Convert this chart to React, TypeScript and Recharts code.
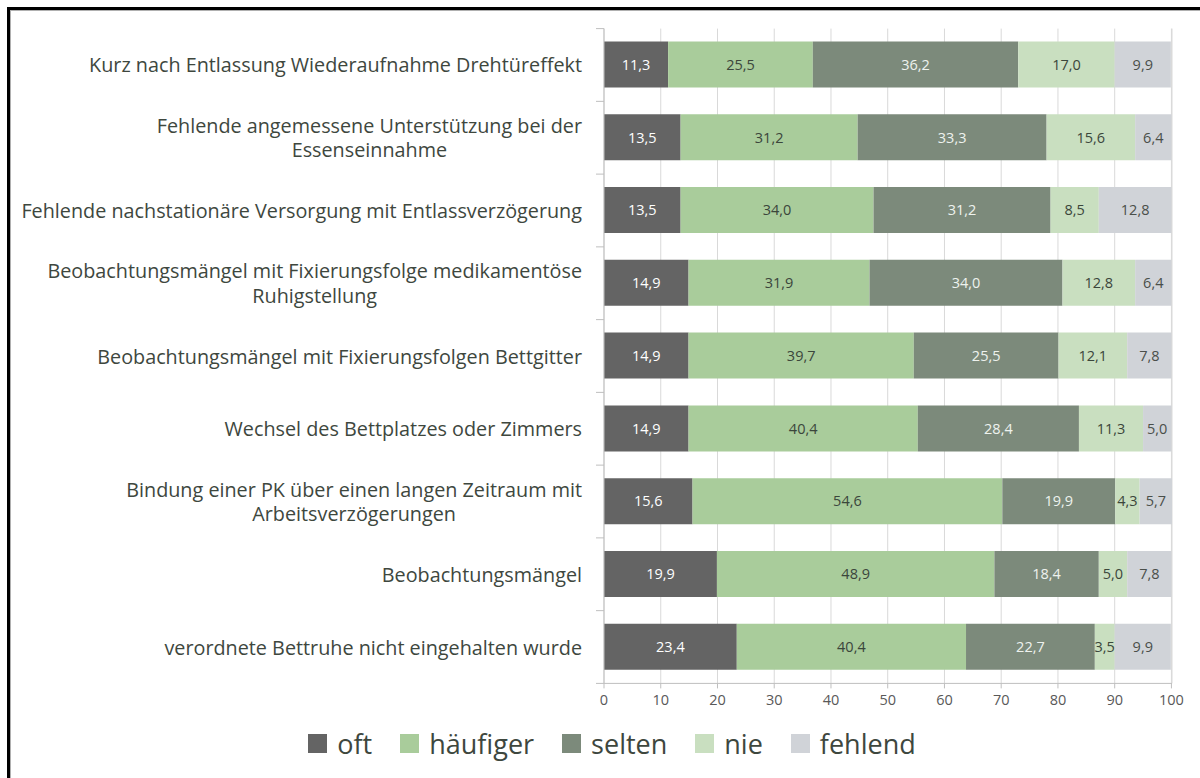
import React from "react";
import {
    BarChart,
    Bar,
    XAxis,
    YAxis,
    CartesianGrid,
    Legend,
    LabelList,
} from "recharts";

// Kategorien (von oben nach unten)
const categories = [
    "Kurz nach Entlassung Wiederaufnahme Drehtüreffekt",
    "Fehlende angemessene Unterstützung bei der\nEssenseinnahme",
    "Fehlende nachstationäre Versorgung mit Entlassverzögerung",
    "Beobachtungsmängel mit Fixierungsfolge medikamentöse\nRuhigstellung",
    "Beobachtungsmängel mit Fixierungsfolgen Bettgitter",
    "Wechsel des Bettplatzes oder Zimmers",
    "Bindung einer PK über einen langen Zeitraum mit\nArbeitsverzögerungen",
    "Beobachtungsmängel",
    "verordnete Bettruhe nicht eingehalten wurde",
];

const oft = [11.3, 13.5, 13.5, 14.9, 14.9, 14.9, 15.6, 19.9, 23.4];
const haeufiger = [25.5, 31.2, 34.0, 31.9, 39.7, 40.4, 54.6, 48.9, 40.4];
const selten = [36.2, 33.3, 31.2, 34.0, 25.5, 28.4, 19.9, 18.4, 22.7];
const nie = [17.0, 15.6, 8.5, 12.8, 12.1, 11.3, 4.3, 5.0, 3.5];
const fehlend = [9.9, 6.4, 12.8, 6.4, 7.8, 5.0, 5.7, 7.8, 9.9];

const xTicks = [0, 10, 20, 30, 40, 50, 60, 70, 80, 90, 100];

const series = [
    { key: "oft", fill: "#646464", text: "#ffffff" },
    { key: "häufiger", fill: "#a9cc9b", text: "#3b463b" },
    { key: "selten", fill: "#7c8a7b", text: "#eef2ee" },
    { key: "nie", fill: "#c9dfc0", text: "#3b463b" },
    { key: "fehlend", fill: "#d0d3d8", text: "#4a4f4a" },
];

const data = categories.map((c, i) => ({
    name: c,
    oft: oft[i],
    häufiger: haeufiger[i],
    selten: selten[i],
    nie: nie[i],
    fehlend: fehlend[i],
}));

const FONT = '"Open Sans", "DejaVu Sans", sans-serif';
const TEXT = "#3e473e";
const CAT_SIZE = 19.8;

// Layout
const PLOT_LEFT = 604;
const PLOT_TOP = 28.6;
const PLOT_BOTTOM = 683.4;
const BAND = (PLOT_BOTTOM - PLOT_TOP) / categories.length;

let ctx: CanvasRenderingContext2D | null = null;
function measure(s: string, font: string) {
    if (!ctx) ctx = document.createElement("canvas").getContext("2d");
    if (!ctx) return s.length * 9;
    ctx.font = font;
    return ctx.measureText(s).width;
}

const CatTick = (props: any) => {
    const { y, payload, index } = props;
    const lines: string[] = String(payload.value).split("\n");
    const lh = 24.5;
    const right = 582;
    const y0 = y - ((lines.length - 1) * lh) / 2;
    const w = Math.max(...lines.map((l) => measure(l, `${CAT_SIZE}px ${FONT}`)));
    return (
        <g>
            <line
                x1={PLOT_LEFT - 8}
                x2={PLOT_LEFT}
                y1={y - BAND / 2}
                y2={y - BAND / 2}
                stroke="#bfbfbf"
            />
            {index === categories.length - 1 && (
                <line
                    x1={PLOT_LEFT - 8}
                    x2={PLOT_LEFT}
                    y1={y + BAND / 2}
                    y2={y + BAND / 2}
                    stroke="#bfbfbf"
                />
            )}
            {lines.map((l, i) => (
                <text
                    key={i}
                    x={lines.length > 1 ? right - w / 2 : right}
                    y={y0 + i * lh}
                    textAnchor={lines.length > 1 ? "middle" : "end"}
                    dominantBaseline="central"
                    fontFamily={FONT}
                    fontSize={CAT_SIZE}
                    fill={TEXT}
                >
                    {l}
                </text>
            ))}
        </g>
    );
};

const LegendContent = () => (
    <div
        style={{
            display: "flex",
            justifyContent: "center",
            alignItems: "center",
            fontFamily: FONT,
            fontSize: 27,
            color: TEXT,
        }}
    >
        {series.map((s) => (
            <div
                key={s.key}
                style={{ display: "flex", alignItems: "center", margin: "0 14px" }}
            >
                <span
                    style={{
                        display: "inline-block",
                        width: 19,
                        height: 19,
                        background: s.fill,
                        marginRight: 10,
                    }}
                />
                <span>{s.key}</span>
            </div>
        ))}
    </div>
);

const fmt = (v: any) => Number(v).toFixed(1).replace(".", ",");

export default function App() {
    return (
        <div
            style={{
                position: "fixed",
                left: 0,
                top: 0,
                width: 1200,
                height: 778,
                background: "#fff",
                overflow: "hidden",
            }}
        >
            {/* Rahmen */}
            <div
                style={{
                    position: "absolute",
                    left: 7,
                    top: 7,
                    width: 1300,
                    height: 900,
                    borderTop: "3px solid #000",
                    borderLeft: "3px solid #000",
                }}
            >
                <div
                    style={{
                        width: "100%",
                        height: "100%",
                        borderTop: "1px solid #b0b0b0",
                        borderLeft: "1px solid #b0b0b0",
                    }}
                />
            </div>
            <div style={{ position: "absolute", left: 0, top: 0 }}>
                <BarChart
                    width={1200}
                    height={778}
                    data={data}
                    layout="vertical"
                    margin={{ top: PLOT_TOP, right: 28, bottom: 778 - PLOT_BOTTOM - 30, left: 0 }}
                    barSize={46}
                >
                    <CartesianGrid horizontal={false} stroke="#d9d9d9" />
                    <XAxis
                        type="number"
                        domain={[0, 100]}
                        ticks={xTicks}
                        height={30}
                        axisLine={{ stroke: "#bfbfbf" }}
                        tickLine={{ stroke: "#bfbfbf" }}
                        tickSize={5}
                        tickMargin={6}
                        tick={{ fontFamily: FONT, fontSize: 14.5, fill: "#595959" }}
                    />
                    <YAxis
                        type="category"
                        dataKey="name"
                        width={PLOT_LEFT}
                        axisLine={{ stroke: "#bfbfbf" }}
                        tickLine={false}
                        tick={<CatTick />}
                        interval={0}
                    />
                    <Legend
                        verticalAlign="middle"
                        align="center"
                        layout="horizontal"
                        wrapperStyle={{ top: 725, left: 12, width: 1200 }}
                        content={<LegendContent />}
                    />
                    {series.map((s) => (
                        <Bar
                            key={s.key}
                            dataKey={s.key}
                            stackId="a"
                            fill={s.fill}
                            isAnimationActive={false}
                        >
                            <LabelList
                                dataKey={s.key}
                                position="center"
                                formatter={fmt}
                                style={{ fontFamily: FONT, fontSize: 14.5, fill: s.text }}
                            />
                        </Bar>
                    ))}
                </BarChart>
            </div>
        </div>
    );
}
